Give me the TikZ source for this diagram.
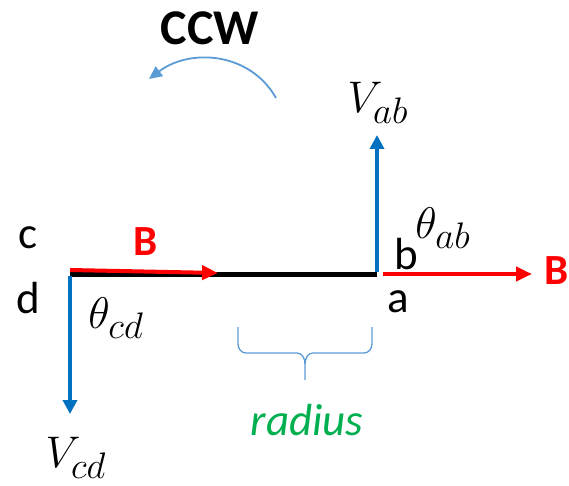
\documentclass[tikz,border=0pt]{standalone}
\usepackage{graphicx}
\usepackage{fontspec}
\setmainfont{Carlito}
\usetikzlibrary{arrows.meta}
\definecolor{vblue}{HTML}{0070C0}
\definecolor{lblue}{HTML}{5B9BD5}
\definecolor{bred}{HTML}{FF0000}
\definecolor{rgreen}{HTML}{00B050}
\newcommand{\bigmath}[1]{\scalebox{1.78}{\fontsize{24.88}{28}\selectfont$#1$}}
\tikzset{
  varrow/.style={draw=vblue, line width=4pt, -{Triangle[length=14pt,width=14pt]}},
  barrow/.style={draw=bred, line width=4pt, -{Triangle[length=16pt,width=14pt]}},
  thin blue/.style={draw=lblue, line width=1.3pt},
  lbl/.style={font=\fontsize{45}{50}\selectfont, inner sep=0pt},
  bold lbl/.style={font=\fontsize{43}{48}\selectfont\bfseries, inner sep=0pt},
  math lbl/.style={inner sep=0pt}
}
\begin{document}
\begin{tikzpicture}[x=1pt,y=-1pt]
\useasboundingbox (0,0) rectangle (569,486);
% points
\coordinate (L) at (70,274);
\coordinate (R) at (377,274);
\coordinate (Lred) at (70,270);
\coordinate (LredE) at (218,273);
\coordinate (Lbl) at (70,276);
\coordinate (LblE) at (70,414);
\coordinate (Rbl) at (377,272);
\coordinate (RblE) at (377,135);
\coordinate (Rred) at (383,274);
\coordinate (RredE) at (532,274);
\coordinate (ccwS) at (276,98);
\coordinate (ccwE) at (149,79);
% bar
\draw[line width=5pt] (L) -- (R);
% arrows
\draw[barrow] (Lred) -- (LredE);
\draw[varrow] (Lbl) -- (LblE);
\draw[varrow] (Rbl) -- (RblE);
\draw[barrow] (Rred) -- (RredE);
% ccw arrow
\draw[thin blue, line width=1.8pt, -{Triangle[length=13pt,width=12pt]}] (ccwS) .. controls (250,52) and (190,48) .. (ccwE);
% brace
\coordinate (brL) at (238,327);
\coordinate (brR) at (372,327);
\coordinate (brT) at (305,380);
\draw[thin blue] (brL) -- (238,344) to[out=-90,in=180] (246,353) -- (297,353) to[out=0,in=90] (305,364) -- (brT);
\draw[thin blue] (brR) -- (372,344) to[out=-90,in=0] (364,353) -- (313,353) to[out=180,in=90] (305,364);
% labels
\node[inner sep=0pt, font=\fontsize{50}{55}\selectfont\bfseries] (ccw) at (210,28) {CCW};
\node[lbl] (c) at (28,238) {c};
\node[lbl] (d) at (28,298) {d};
\node[bold lbl, text=bred] (B1) at (146,242) {B};
\node[bold lbl, text=bred] (B2) at (557,271) {B};
\node[math lbl] (tcd) at (116,318) {\bigmath{\theta_{cd}}};
\node[math lbl] (vcd) at (76,458) {\bigmath{V_{cd}}};
\node[math lbl] (vab) at (378,103) {\bigmath{V_{ab}}};
\node[math lbl] (tab) at (443,228) {\bigmath{\theta_{ab}}};
\node[lbl] (b) at (406,254) {b};
\node[lbl] (a) at (398,302) {a};
\node[inner sep=0pt, text=rgreen, font=\fontsize{45}{50}\selectfont\itshape] (rad) at (307,420) {radius};
\end{tikzpicture}
\end{document}
